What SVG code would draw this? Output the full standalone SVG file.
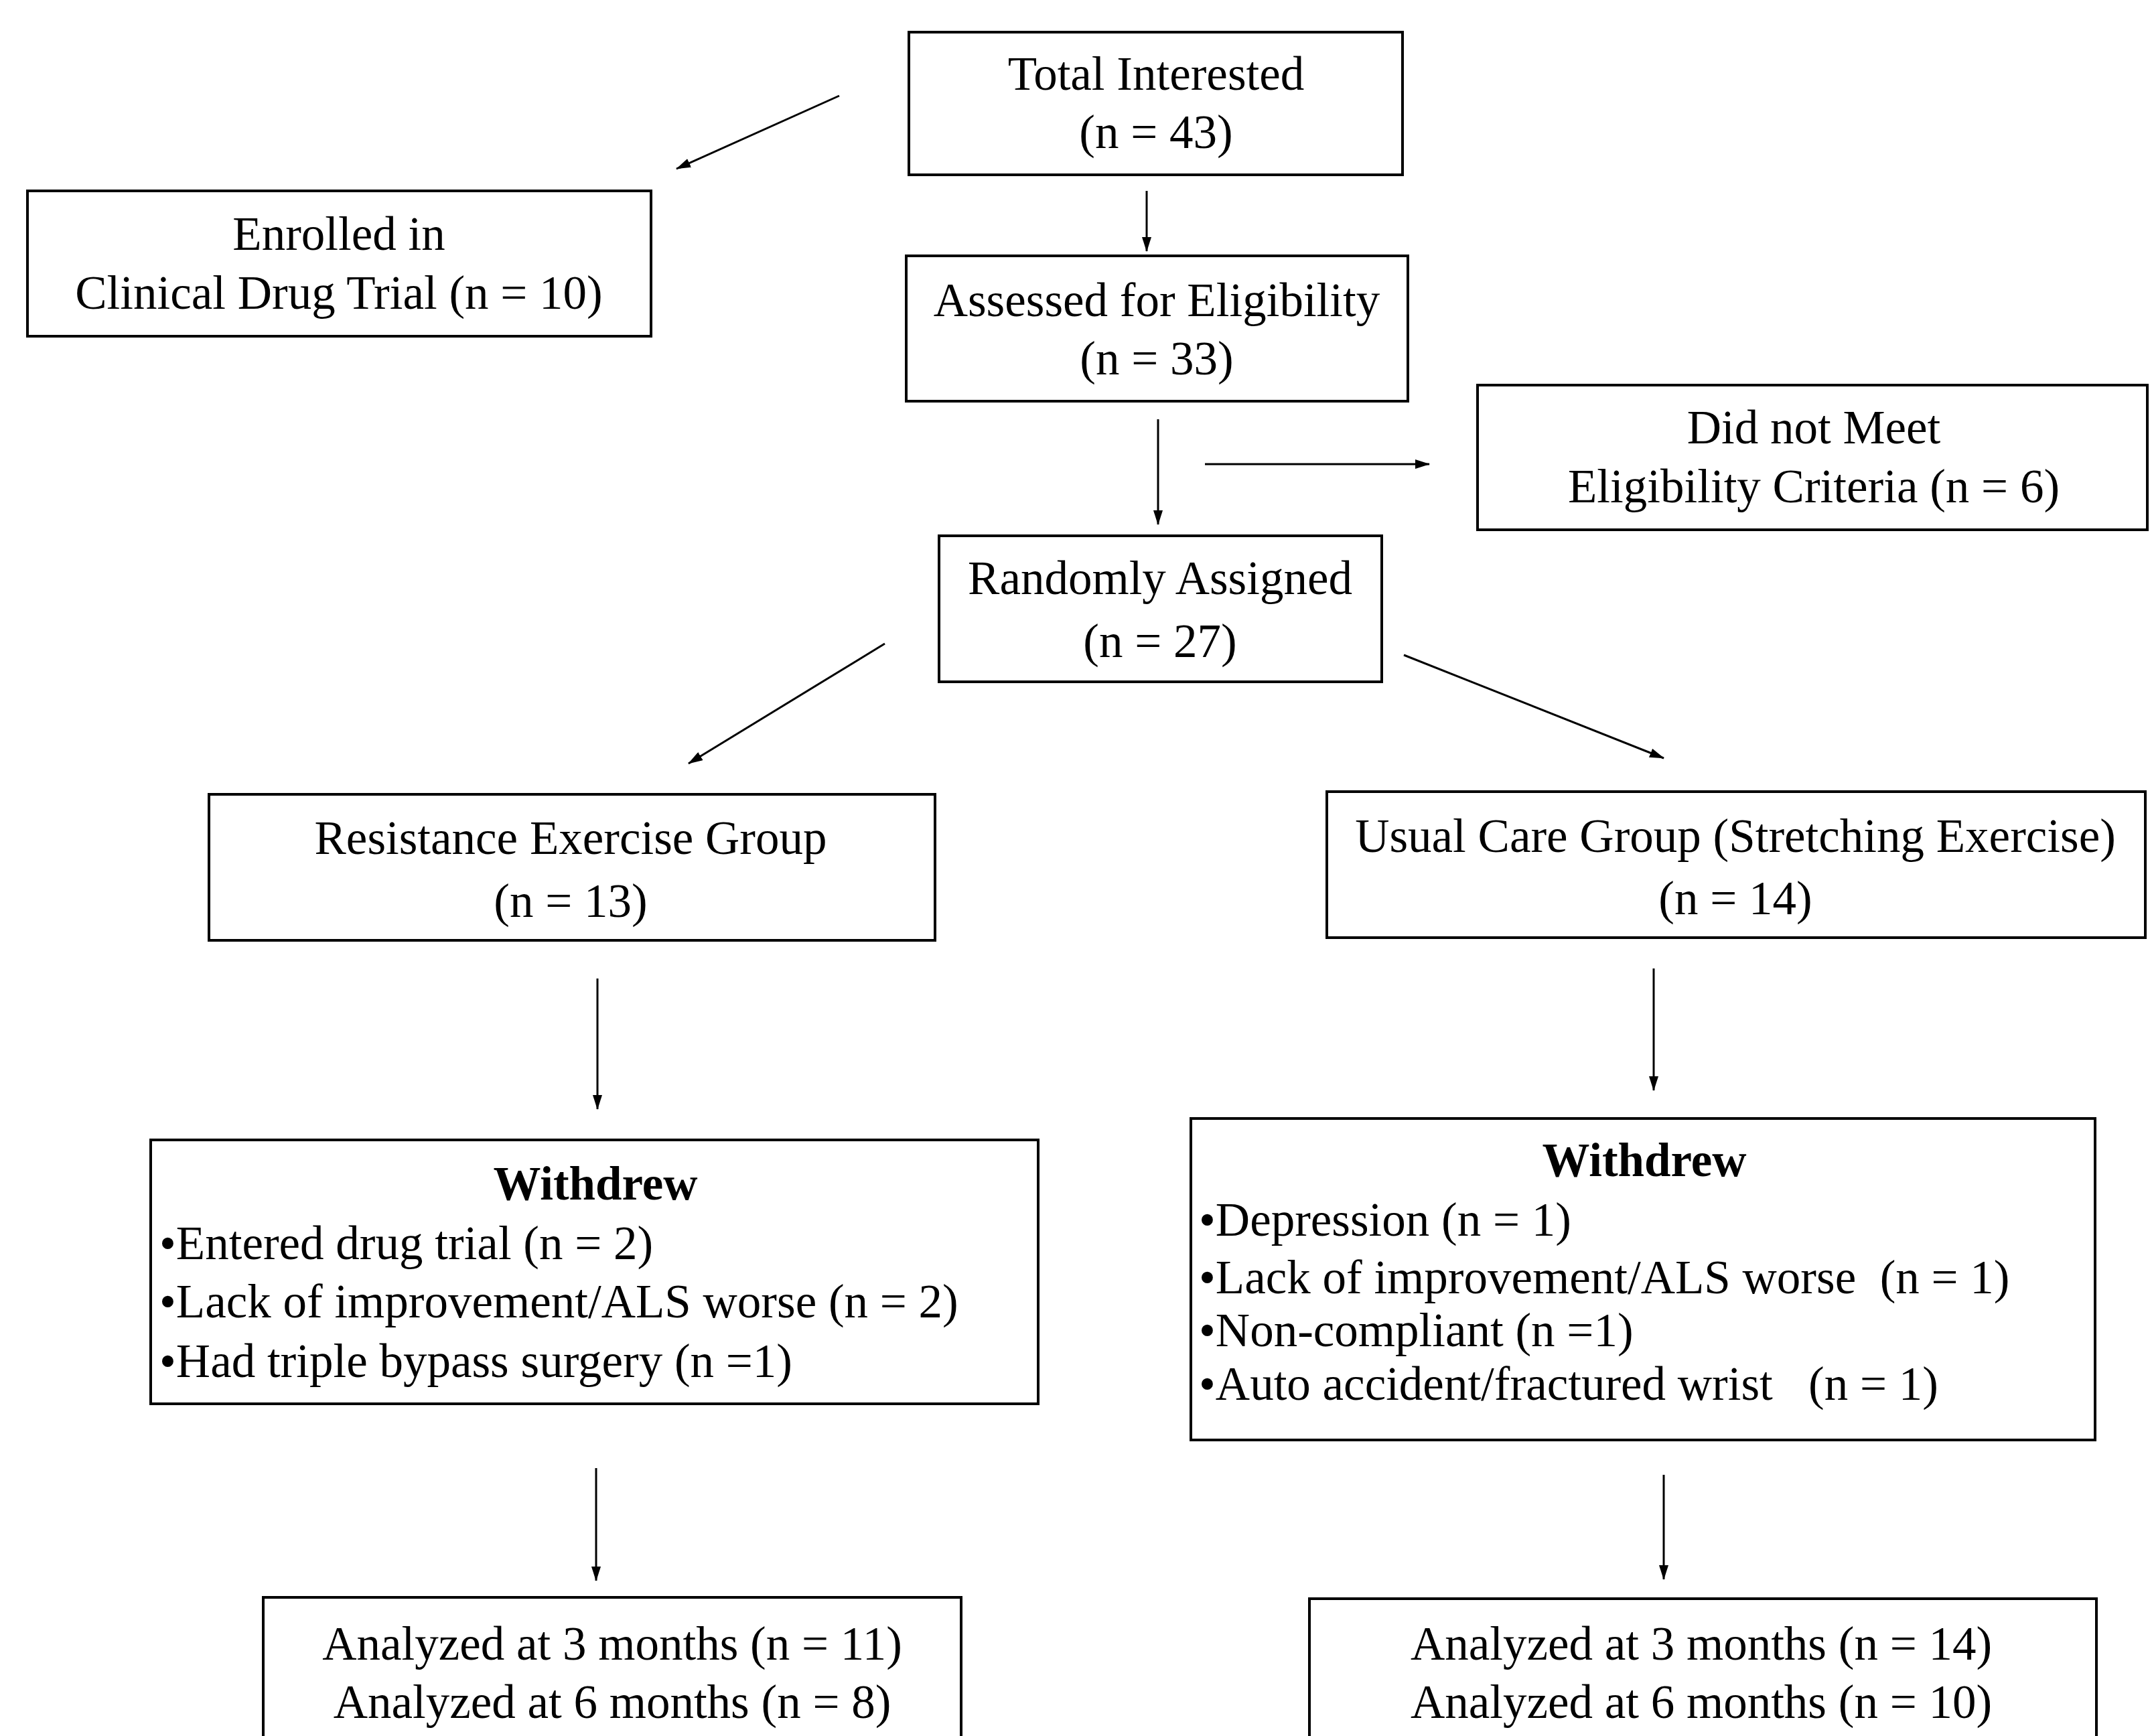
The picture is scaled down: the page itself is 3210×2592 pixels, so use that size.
<svg xmlns="http://www.w3.org/2000/svg" width="3210" height="2592" viewBox="0 0 3210 2592">
<defs>
<marker id="ah" viewBox="0 0 22 14" refX="21" refY="7" markerWidth="22" markerHeight="14" markerUnits="userSpaceOnUse" orient="auto">
<path d="M0,0 L22,7 L0,14 z" fill="#000"/>
</marker>
</defs>
<style>
.box{fill:#fff;stroke:#000;stroke-width:4}
text{font-family:"Liberation Serif","Times New Roman",serif;font-size:71px;fill:#000}
.c{text-anchor:middle}
.b{font-weight:bold}
.pre{white-space:pre}
.conn line{stroke:#000;stroke-width:3;marker-end:url(#ah)}
</style>
<rect width="3210" height="2592" fill="#fff"/>
<g id="total">
<rect class="box" x="1357" y="48" width="737" height="213"/>
<text class="c" x="1726" y="134">Total Interested</text>
<text class="c" x="1726" y="221">(n = 43)</text>
</g>
<g id="enrolled">
<rect class="box" x="41" y="285" width="931" height="217"/>
<text class="c" x="506" y="373">Enrolled in</text>
<text class="c" x="506" y="461">Clinical Drug Trial (n = 10)</text>
</g>
<g id="assessed">
<rect class="box" x="1353" y="382" width="749" height="217"/>
<text class="c" x="1727" y="472">Assessed for Eligibility</text>
<text class="c" x="1727" y="559">(n = 33)</text>
</g>
<g id="notmeet">
<rect class="box" x="2206" y="575" width="1000" height="216"/>
<text class="c" x="2708" y="662">Did not Meet</text>
<text class="c" x="2708" y="750">Eligibility Criteria (n = 6)</text>
</g>
<g id="random">
<rect class="box" x="1402" y="800" width="661" height="218"/>
<text class="c" x="1732" y="887">Randomly Assigned</text>
<text class="c" x="1732" y="981">(n = 27)</text>
</g>
<g id="resistance">
<rect class="box" x="312" y="1186" width="1084" height="218"/>
<text class="c" x="852" y="1275">Resistance Exercise Group</text>
<text class="c" x="852" y="1369">(n = 13)</text>
</g>
<g id="usual">
<rect class="box" x="1981" y="1182" width="1222" height="218"/>
<text class="c" x="2591" y="1272">Usual Care Group (Stretching Exercise)</text>
<text class="c" x="2591" y="1365">(n = 14)</text>
</g>
<g id="withdrewL">
<rect class="box" x="225" y="1702" width="1325" height="394"/>
<text class="c b" x="889" y="1791">Withdrew</text>
<text x="238" y="1880">•Entered drug trial (n = 2)</text>
<text x="238" y="1967">•Lack of improvement/ALS worse (n = 2)</text>
<text x="238" y="2056">•Had triple bypass surgery (n =1)</text>
</g>
<g id="withdrewR">
<rect class="box" x="1778" y="1670" width="1350" height="480"/>
<text class="c b" x="2455" y="1756">Withdrew</text>
<text class="pre" x="1790" y="1845">•Depression (n = 1)</text>
<text class="pre" x="1790" y="1931">•Lack of improvement/ALS worse  (n = 1)</text>
<text class="pre" x="1790" y="2010">•Non-compliant (n =1)</text>
<text class="pre" x="1790" y="2090">•Auto accident/fractured wrist   (n = 1)</text>
</g>
<g id="analyzedL">
<rect class="box" x="393" y="2385" width="1042" height="260"/>
<text class="c" x="914" y="2478">Analyzed at 3 months (n = 11)</text>
<text class="c" x="914" y="2565">Analyzed at 6 months (n = 8)</text>
</g>
<g id="analyzedR">
<rect class="box" x="1955" y="2387" width="1175" height="260"/>
<text class="c" x="2540" y="2478">Analyzed at 3 months (n = 14)</text>
<text class="c" x="2540" y="2565">Analyzed at 6 months (n = 10)</text>
</g>
<g id="connectors" class="conn">
<line x1="1253" y1="143" x2="1010" y2="252"/>
<line x1="1712" y1="285" x2="1712" y2="375"/>
<line x1="1729" y1="626" x2="1729" y2="783"/>
<line x1="1799" y1="693" x2="2134" y2="693"/>
<line x1="1321" y1="961" x2="1028" y2="1140"/>
<line x1="2096" y1="978" x2="2484" y2="1132"/>
<line x1="892" y1="1461" x2="892" y2="1656"/>
<line x1="2469" y1="1446" x2="2469" y2="1628"/>
<line x1="890" y1="2192" x2="890" y2="2360"/>
<line x1="2484" y1="2202" x2="2484" y2="2358"/>
</g>
</svg>
